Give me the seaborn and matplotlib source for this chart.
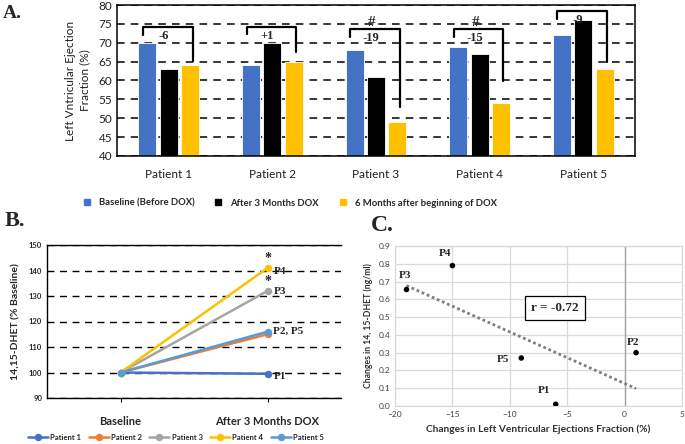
import numpy as np
import pandas as pd
import matplotlib
matplotlib.use("Agg")
import matplotlib.pyplot as plt
from matplotlib.lines import Line2D
import seaborn as sns

# ---- Data -------------------------------------------------------------
patients = ["Patient 1", "Patient 2", "Patient 3", "Patient 4", "Patient 5"]
timepoints = ["Baseline (Before DOX)", "After 3 Months DOX", "6 Months after beginning of DOX"]
lvef_baseline = [70, 64, 68, 69, 72]
lvef_3m = [63, 70, 61, 67, 76]
lvef_6m = [64, 65, 49, 54, 63]
lvef_change = ["-6", "+1", "-19", "-15", "-9"]
lvef_sig = ["", "", "#", "#", ""]
bracket_top = [74.2, 74.3, 73.6, 73.6, 78.4]
bracket_end = [65.2, 67.5, 53.0, 59.9, 64.9]

dhet_times = ["Baseline", "After 3 Months DOX"]
dhet_baseline = [100, 100, 100, 100, 100]
dhet_3m = [99.5, 115, 132, 141, 116]
dhet_tags = ["P1", "P2, P5", "P3", "P4"]
dhet_tag_y = [98.6, 116.3, 131.6, 139.8]
dhet_star_y = [135.5, 144.9]

ef_change = [-6, 1, -19, -15, -9]
dhet_change = [0.01, 0.30, 0.655, 0.79, 0.27]
point_names = ["P1", "P2", "P3", "P4", "P5"]
r_text = "r = -0.72"

bar_colors = ["#4472C4", "#000000", "#FFC000"]
line_colors = ["#4472C4", "#ED7D31", "#A5A5A5", "#FFC000", "#5B9BD5"]

sns.set_theme(style="white")
plt.rcParams["font.family"] = ["Lato", "DejaVu Sans"]
SERIF = "Liberation Serif"

W, H = 685, 444
fig = plt.figure(figsize=(W / 100, H / 100), dpi=100)

# ---- Panel A: LVEF bars -----------------------------------------------
dfA = pd.DataFrame({
    "patient": patients * 3,
    "time": np.repeat(timepoints, len(patients)),
    "lvef": lvef_baseline + lvef_3m + lvef_6m,
})
axA = fig.add_axes([117 / W, 1 - 156 / H, 518 / W, 151 / H])
sns.barplot(data=dfA, x="patient", y="lvef", hue="time", palette=bar_colors,
            saturation=1, width=0.62, gap=0.16, edgecolor="white", linewidth=0.6,
            ax=axA, legend=False)
axA.set_ylim(40, 80)
axA.set_xlim(-0.5, 4.5)
axA.set_yticks(range(40, 81, 5))
axA.set_axisbelow(True)
axA.yaxis.grid(True, linestyle=(0, (5, 4)), color="black", linewidth=1.1)
for s in axA.spines.values():
    s.set_color("black")
    s.set_linewidth(1.1)
axA.tick_params(axis="both", length=0, labelsize=8.5, colors="#202020")
axA.tick_params(axis="x", pad=9)
axA.set_xlabel("")
axA.set_ylabel("Left Vntricular Ejection\nFraction (%)", fontsize=8.5, color="#202020",
               labelpad=6, linespacing=1.3)

for i in range(len(patients)):
    x0, x1 = i - 0.25, i + 0.23
    top = bracket_top[i]
    axA.plot([x0, x0, x1, x1], [top - 2.1, top, top, bracket_end[i]],
             color="black", lw=1.6, clip_on=False, zorder=4)
    axA.text(i - 0.05, top - 0.8, lvef_change[i], ha="center", va="top",
             fontsize=9, fontweight="bold", family=SERIF, zorder=5)
    if lvef_sig[i]:
        axA.text(i - 0.04, top + 0.1, lvef_sig[i], ha="center", va="bottom",
                 fontsize=11, fontweight="bold", family=SERIF)

handlesA = [Line2D([], [], marker="s", ls="", color=c, markersize=4.5) for c in bar_colors]
fig.legend(handlesA, timepoints, loc="center", bbox_to_anchor=(287 / W, 1 - 203 / H),
           ncol=3, frameon=False, handletextpad=0.3, columnspacing=1.5,
           prop={"weight": "bold", "size": 6.8})

# ---- Panel B: 14,15-DHET lines ----------------------------------------
dfB = pd.DataFrame({
    "patient": patients * 2,
    "time": np.repeat(dhet_times, len(patients)),
    "value": dhet_baseline + dhet_3m,
})
axB = fig.add_axes([47 / W, 1 - 398 / H, 294 / W, 153 / H])
sns.pointplot(data=dfB, x="time", y="value", hue="patient", palette=line_colors,
              markers="o", markersize=4, linewidth=1.8, errorbar=None, ax=axB)
axB.set_ylim(90, 150)
axB.set_xlim(-0.5, 1.5)
axB.set_yticks(range(90, 151, 10))
axB.set_axisbelow(True)
axB.yaxis.grid(True, linestyle=(0, (5, 4)), color="black", linewidth=1.0)
axB.spines["right"].set_visible(False)
for k in ["left", "bottom", "top"]:
    axB.spines[k].set_color("black")
    axB.spines[k].set_linewidth(1.0)
axB.tick_params(axis="y", length=0, labelsize=5.5)
axB.tick_params(axis="x", length=3, width=0.8, color="black", labelsize=8, pad=10, bottom=True)
for t in axB.get_yticklabels() + axB.get_xticklabels():
    t.set_fontweight("bold")
axB.set_xlabel("")
axB.set_ylabel("14,15-DHET (% Baseline)", fontsize=7.5, fontweight="bold", labelpad=6)
for tag, ty in zip(dhet_tags, dhet_tag_y):
    axB.text(1.04, ty, tag, ha="left", va="center", fontsize=8,
             fontweight="bold", family=SERIF)
for sy in dhet_star_y:
    axB.text(1.0, sy, "*", ha="center", va="center", fontsize=10,
             fontweight="bold", family=SERIF)
axB.legend(loc="center", bbox_to_anchor=((176 - 47) / 294, (398 - 437) / 153),
           ncol=5, frameon=False, prop={"weight": "bold", "size": 5.5},
           handlelength=2.6, columnspacing=1.0, handletextpad=0.3)

# ---- Panel C: correlation ---------------------------------------------
dfC = pd.DataFrame({"ef": ef_change, "dhet": dhet_change, "name": point_names})
axC = fig.add_axes([395 / W, 1 - 406 / H, 287 / W, 160 / H])
sns.regplot(data=dfC, x="ef", y="dhet", scatter=False, ci=None, truncate=True,
            line_kws=dict(color="#7F7F7F", ls=(0, (1, 1)), lw=2), ax=axC)
sns.scatterplot(data=dfC, x="ef", y="dhet", color="black", s=16, ax=axC, zorder=3,
                edgecolor="none")
axC.set_xlim(-20, 5)
axC.set_ylim(0, 0.9)
axC.set_xticks(range(-20, 6, 5))
axC.set_yticks(np.arange(0, 0.91, 0.1))
axC.yaxis.set_major_formatter(matplotlib.ticker.FormatStrFormatter("%.1f"))
axC.grid(True, color="#D9D9D9", linewidth=0.9)
axC.set_axisbelow(True)
axC.axvline(0, color="#A6A6A6", linewidth=1.0, zorder=1)
for s in axC.spines.values():
    s.set_color("#D9D9D9")
    s.set_linewidth(0.9)
axC.tick_params(axis="both", length=0, labelsize=6, colors="#404040")
axC.set_xlabel("Changes in Left Ventricular Ejections Fraction (%)", fontsize=7.3,
               fontweight="bold", color="#303030", labelpad=5)
axC.set_ylabel("Changes in 14, 15-DHET (ng/ml)", fontsize=6.2, fontweight="bold",
               color="#303030", labelpad=4)
label_offsets = {"P1": (-1.0, 0.08), "P2": (-0.3, 0.06), "P3": (-0.1, 0.08),
                 "P4": (-0.6, 0.07), "P5": (-1.6, -0.01)}
for _, row in dfC.iterrows():
    dx, dy = label_offsets[row["name"]]
    axC.text(row["ef"] + dx, row["dhet"] + dy, row["name"], ha="center", va="center",
             fontsize=8, fontweight="bold", family=SERIF)
axC.text(-6.06, 0.55, r_text, ha="center", va="center", fontsize=9.5,
         fontweight="bold", family=SERIF,
         bbox=dict(boxstyle="square,pad=0.45", facecolor="white", edgecolor="black", lw=0.9))

# ---- Panel letters ----------------------------------------------------
fig.text(3 / W, 1 - 14 / H, "A.", fontsize=14, fontweight="bold", family=SERIF, va="center")
fig.text(5 / W, 1 - 221 / H, "B.", fontsize=16, fontweight="bold", family=SERIF, va="center")
fig.text(371 / W, 1 - 225 / H, "C.", fontsize=17, fontweight="bold", family=SERIF, va="center")

fig.savefig("out.png", dpi=100)
